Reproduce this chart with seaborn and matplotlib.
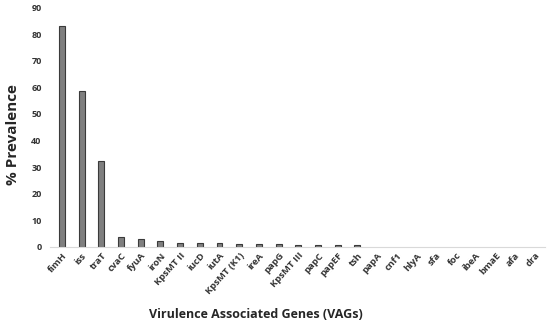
import matplotlib
matplotlib.use("Agg")
import matplotlib.pyplot as plt
import seaborn as sns
import pandas as pd

genes = ["fimH", "iss", "traT", "cvaC", "fyuA", "iroN", "KpsMT II", "iucD", "iutA",
         "KpsMT (K1)", "ireA", "papG", "KpsMT III", "papC", "papEF", "tsh", "papA",
         "cnf1", "hlyA", "sfa", "foc", "ibeA", "bmaE", "afa", "dra"]
prevalence = [83.0, 58.7, 32.2, 3.5, 3.0, 2.2, 1.6, 1.6, 1.6,
              1.1, 1.1, 1.1, 0.5, 0.5, 0.5, 0.5, 0, 0, 0, 0, 0, 0, 0, 0, 0]

df = pd.DataFrame({"gene": genes, "prev": prevalence})

sns.set_style("white")
plt.rcParams["font.family"] = ["Open Sans", "DejaVu Sans"]

fig, ax = plt.subplots(figsize=(5.5, 3.23), dpi=100)
fig.subplots_adjust(left=0.091, right=0.99, top=0.976, bottom=0.236)

sns.barplot(data=df, x="gene", y="prev", color="#7f7f7f", edgecolor="#3a3a3a",
            linewidth=0.8, width=0.3, ax=ax)
# genes with 0% prevalence show no bar at all
for p in ax.patches:
    if p.get_height() == 0:
        p.set_visible(False)

ax.set_ylim(0, 90)
ax.set_yticks(range(0, 91, 10))
ax.set_xlim(-0.6, len(genes) - 0.5)
for s in ["top", "right", "left"]:
    ax.spines[s].set_visible(False)
ax.spines["bottom"].set_color("#d9d9d9")
ax.tick_params(axis="y", length=0, pad=6)
ax.tick_params(axis="x", length=0, pad=3)
plt.setp(ax.get_yticklabels(), fontsize=6.5, fontweight="bold", color="#333333")
plt.setp(ax.get_xticklabels(), fontsize=6.8, fontweight="bold", rotation=48,
         ha="right", rotation_mode="anchor", color="#333333")

ax.set_ylabel("% Prevalence", fontsize=11, fontweight="bold")
ax.yaxis.set_label_coords(-0.06, 0.47)
ax.set_xlabel("Virulence Associated Genes (VAGs)", fontsize=9, fontweight="bold")
ax.xaxis.set_label_coords(0.416, -0.255)

fig.savefig("out.png", dpi=100)
